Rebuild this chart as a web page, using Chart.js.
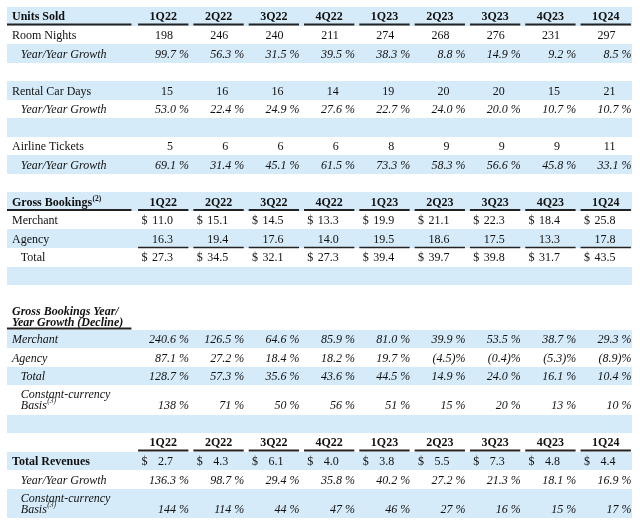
<!DOCTYPE html>
<html><head><meta charset="utf-8">
<script src="https://cdn.jsdelivr.net/npm/chart.js@4.4.1/dist/chart.umd.min.js"></script>
<style>html,body{margin:0;padding:0;background:#fff;} #wrap{width:640px;height:523px;}</style>
</head><body><div id="wrap"><canvas id="c" width="640" height="523"></canvas></div>
<script>
// ---- data ----
const quarters = ['1Q22','2Q22','3Q22','4Q22','1Q23','2Q23','3Q23','4Q23','1Q24'];
const roomNights = [198,246,240,211,274,268,276,231,297];
const roomNightsYoY = [99.7,56.3,31.5,39.5,38.3,8.8,14.9,9.2,8.5];
const rentalCarDays = [15,16,16,14,19,20,20,15,21];
const rentalCarYoY = [53.0,22.4,24.9,27.6,22.7,24.0,20.0,10.7,10.7];
const airlineTickets = [5,6,6,6,8,9,9,9,11];
const airlineYoY = [69.1,31.4,45.1,61.5,73.3,58.3,56.6,45.8,33.1];
const gbMerchant = [11.0,15.1,14.5,13.3,19.9,21.1,22.3,18.4,25.8];
const gbAgency = [16.3,19.4,17.6,14.0,19.5,18.6,17.5,13.3,17.8];
const gbTotal = [27.3,34.5,32.1,27.3,39.4,39.7,39.8,31.7,43.5];
const gbYoYMerchant = [240.6,126.5,64.6,85.9,81.0,39.9,53.5,38.7,29.3];
const gbYoYAgency = [87.1,27.2,18.4,18.2,19.7,-4.5,-0.4,-5.3,-8.9];
const gbYoYTotal = [128.7,57.3,35.6,43.6,44.5,14.9,24.0,16.1,10.4];
const gbYoYConstCcy = [138,71,50,56,51,15,20,13,10];
const totalRevenues = [2.7,4.3,6.1,4.0,3.8,5.5,7.3,4.8,4.4];
const revenueYoY = [136.3,98.7,29.4,35.8,40.2,27.2,21.3,18.1,16.9];
const revenueConstCcy = [144,114,44,47,46,27,16,15,17];

// ---- table structure (layout) ----
const rows = [
  {type:'head', label:'Units Sold', shade:true},
  {label:'Room Nights', values:roomNights, fmt:'int'},
  {label:'Year/Year Growth', values:roomNightsYoY, fmt:'pct', italic:true, indent:true, shade:true},
  {type:'blank'},
  {label:'Rental Car Days', values:rentalCarDays, fmt:'int', shade:true},
  {label:'Year/Year Growth', values:rentalCarYoY, fmt:'pct', italic:true, indent:true},
  {type:'blank', shade:true},
  {label:'Airline Tickets', values:airlineTickets, fmt:'int'},
  {label:'Year/Year Growth', values:airlineYoY, fmt:'pct', italic:true, indent:true, shade:true},
  {type:'blank'},
  {type:'head', label:'Gross Bookings', sup:'(2)', shade:true},
  {label:'Merchant', values:gbMerchant, fmt:'money'},
  {label:'Agency', values:gbAgency, fmt:'num', shade:true, rule:true},
  {label:'Total', values:gbTotal, fmt:'money', indent:true},
  {type:'blank', shade:true},
  {type:'blank'},
  {type:'subhead', lines:['Gross Bookings Year/','Year Growth (Decline)'], h:1.40},
  {label:'Merchant', values:gbYoYMerchant, fmt:'pct', italic:true, shade:true},
  {label:'Agency', values:gbYoYAgency, fmt:'pct', italic:true},
  {label:'Total', values:gbYoYTotal, fmt:'pct', italic:true, indent:true, shade:true},
  {lines:['Constant-currency','Basis'], sup:'(3)', values:gbYoYConstCcy, fmt:'pct0', italic:true, indent:true, h:1.58},
  {type:'blank', shade:true},
  {type:'head', label:''},
  {label:'Total Revenues', bold:true, values:totalRevenues, fmt:'money', shade:true},
  {label:'Year/Year Growth', values:revenueYoY, fmt:'pct', italic:true, indent:true},
  {lines:['Constant-currency','Basis'], sup:'(3)', values:revenueConstCcy, fmt:'pct0', italic:true, indent:true, h:1.58, shade:true}
];
let acc = 0;
rows.forEach(r => { r.h = r.h || 1; r.top = acc; acc += r.h; r.bottom = acc; r.mid = (r.top + r.bottom) / 2; });
const TOTAL_UNITS = acc;

const SERIF = '"Liberation Serif", "Times New Roman", serif';
const BLUE = '#d6ebf9';
const INK = '#111111';
const RULE = '#222222';
const FS = 12;

function fmtVal(v, f) {
  if (f === 'int') return String(v);
  if (f === 'num' || f === 'money') return v.toFixed(1);
  if (f === 'pct') return v < 0 ? '(' + Math.abs(v).toFixed(1) + ')%' : v.toFixed(1) + ' %';
  if (f === 'pct0') return v + ' %';
  return String(v);
}

const tablePlugin = {
  id: 'tablePlugin',
  beforeDatasetsDraw(chart) {
    const {ctx, scales:{x, y}} = chart;
    ctx.save();
    ctx.fillStyle = BLUE;
    rows.forEach(r => {
      if (!r.shade) return;
      const t = Math.round(y.getPixelForValue(r.top));
      const b = Math.round(y.getPixelForValue(r.bottom));
      ctx.fillRect(x.getPixelForValue(x.min), t, x.getPixelForValue(x.max) - x.getPixelForValue(x.min), b - t);
    });
    ctx.restore();
  },
  afterDatasetsDraw(chart) {
    const {ctx, scales:{x, y}} = chart;
    ctx.save();
    ctx.fillStyle = INK;
    ctx.textBaseline = 'middle';
    const font = (st, sz) => (st || '') + ' ' + (sz || FS) + 'px ' + SERIF;
    const hline = (x0, x1, yy, w) => {
      ctx.strokeStyle = RULE; ctx.lineWidth = w;
      ctx.beginPath(); ctx.moveTo(x.getPixelForValue(x0), yy); ctx.lineTo(x.getPixelForValue(x1), yy); ctx.stroke();
    };
    const labelX = -2.21, indentX = -2.05;
    rows.forEach((r, ri) => {
      const yMid = y.getPixelForValue(r.mid) + 1;
      const yBot = y.getPixelForValue(r.bottom);
      if (r.type === 'head') {
        if (r.label) {
          ctx.font = font('bold');
          ctx.textAlign = 'left';
          const lx = x.getPixelForValue(labelX);
          ctx.fillText(r.label, lx, yMid);
          if (r.sup) {
            const w = ctx.measureText(r.label).width;
            ctx.font = font('bold', 7.5);
            ctx.fillText(r.sup, lx + w + 0.5, yMid - 4);
          }
          hline(x.min, -0.05, yBot - 1, 2);
        }
        ctx.font = font('bold');
        ctx.textAlign = 'center';
        quarters.forEach((q, j) => {
          ctx.fillText(q, x.getPixelForValue(j + 0.525), yMid);
          hline(j + 0.07, j + 0.98, yBot - 1, 2);
        });
        return;
      }
      if (r.type === 'subhead') {
        ctx.font = font('bold italic');
        ctx.textAlign = 'left';
        const lx = x.getPixelForValue(labelX);
        ctx.fillText(r.lines[0], lx, yMid - 6);
        ctx.fillText(r.lines[1], lx, yMid + 5);
        hline(x.min, -0.05, yBot - 1, 2);
        return;
      }
      if (r.type === 'blank') return;
      // label
      const st = (r.bold ? 'bold ' : '') + (r.italic ? 'italic' : '');
      ctx.font = font(st);
      ctx.textAlign = 'left';
      const lx = x.getPixelForValue(r.indent ? indentX : labelX);
      let valY = yMid;
      if (r.lines) {
        ctx.fillText(r.lines[0], lx, yMid - 6);
        ctx.fillText(r.lines[1], lx, yMid + 5);
        const w = ctx.measureText(r.lines[1]).width;
        ctx.font = font('italic', 7.5);
        ctx.fillText(r.sup, lx + w + 0.5, yMid + 0.5);
        valY = yMid + 5;
      } else {
        ctx.fillText(r.label, lx, yMid);
      }
      // values via dataset points
      const meta = chart.getDatasetMeta(r.dsIndex);
      const pctStyle = (r.fmt === 'pct' || r.fmt === 'pct0');
      meta.data.forEach((pt, j) => {
        const v = r.values[j];
        const txt = fmtVal(v, r.fmt);
        ctx.font = font(pctStyle || r.italic ? 'italic' : '');
        if (r.fmt === 'money') ctx.font = font('');
        ctx.textAlign = 'right';
        const py = r.lines ? valY : pt.y + 1;
        if (pctStyle) {
          ctx.fillText(txt, x.getPixelForValue(j + 0.99), py);
        } else {
          ctx.fillText(txt, x.getPixelForValue(j + 0.70), py);
        }
        if (r.fmt === 'money') {
          ctx.textAlign = 'left';
          ctx.fillText('$', x.getPixelForValue(j + 0.13), py);
        }
        if (r.rule) hline(j + 0.07, j + 0.98, yBot - 0.5, 1.5);
      });
    });
    ctx.restore();
  }
};

const datasets = [];
rows.forEach(r => {
  if (!r.values) return;
  r.dsIndex = datasets.length;
  datasets.push({
    label: r.label || r.lines.join(' '),
    data: r.values.map((v, j) => ({x: j + 0.5, y: r.mid})),
    pointRadius: 0,
    showLine: false
  });
});

new Chart(document.getElementById('c'), {
  type: 'scatter',
  data: {datasets},
  options: {
    responsive: false,
    animation: false,
    events: [],
    layout: {padding: {left: 7, right: 8, top: 7, bottom: 5}},
    plugins: {legend: {display: false}, tooltip: {enabled: false}},
    scales: {
      x: {type: 'linear', min: -2.3, max: 9, display: false},
      y: {type: 'linear', min: 0, max: TOTAL_UNITS, reverse: true, display: false}
    }
  },
  plugins: [tablePlugin]
});
</script>
</body></html>
